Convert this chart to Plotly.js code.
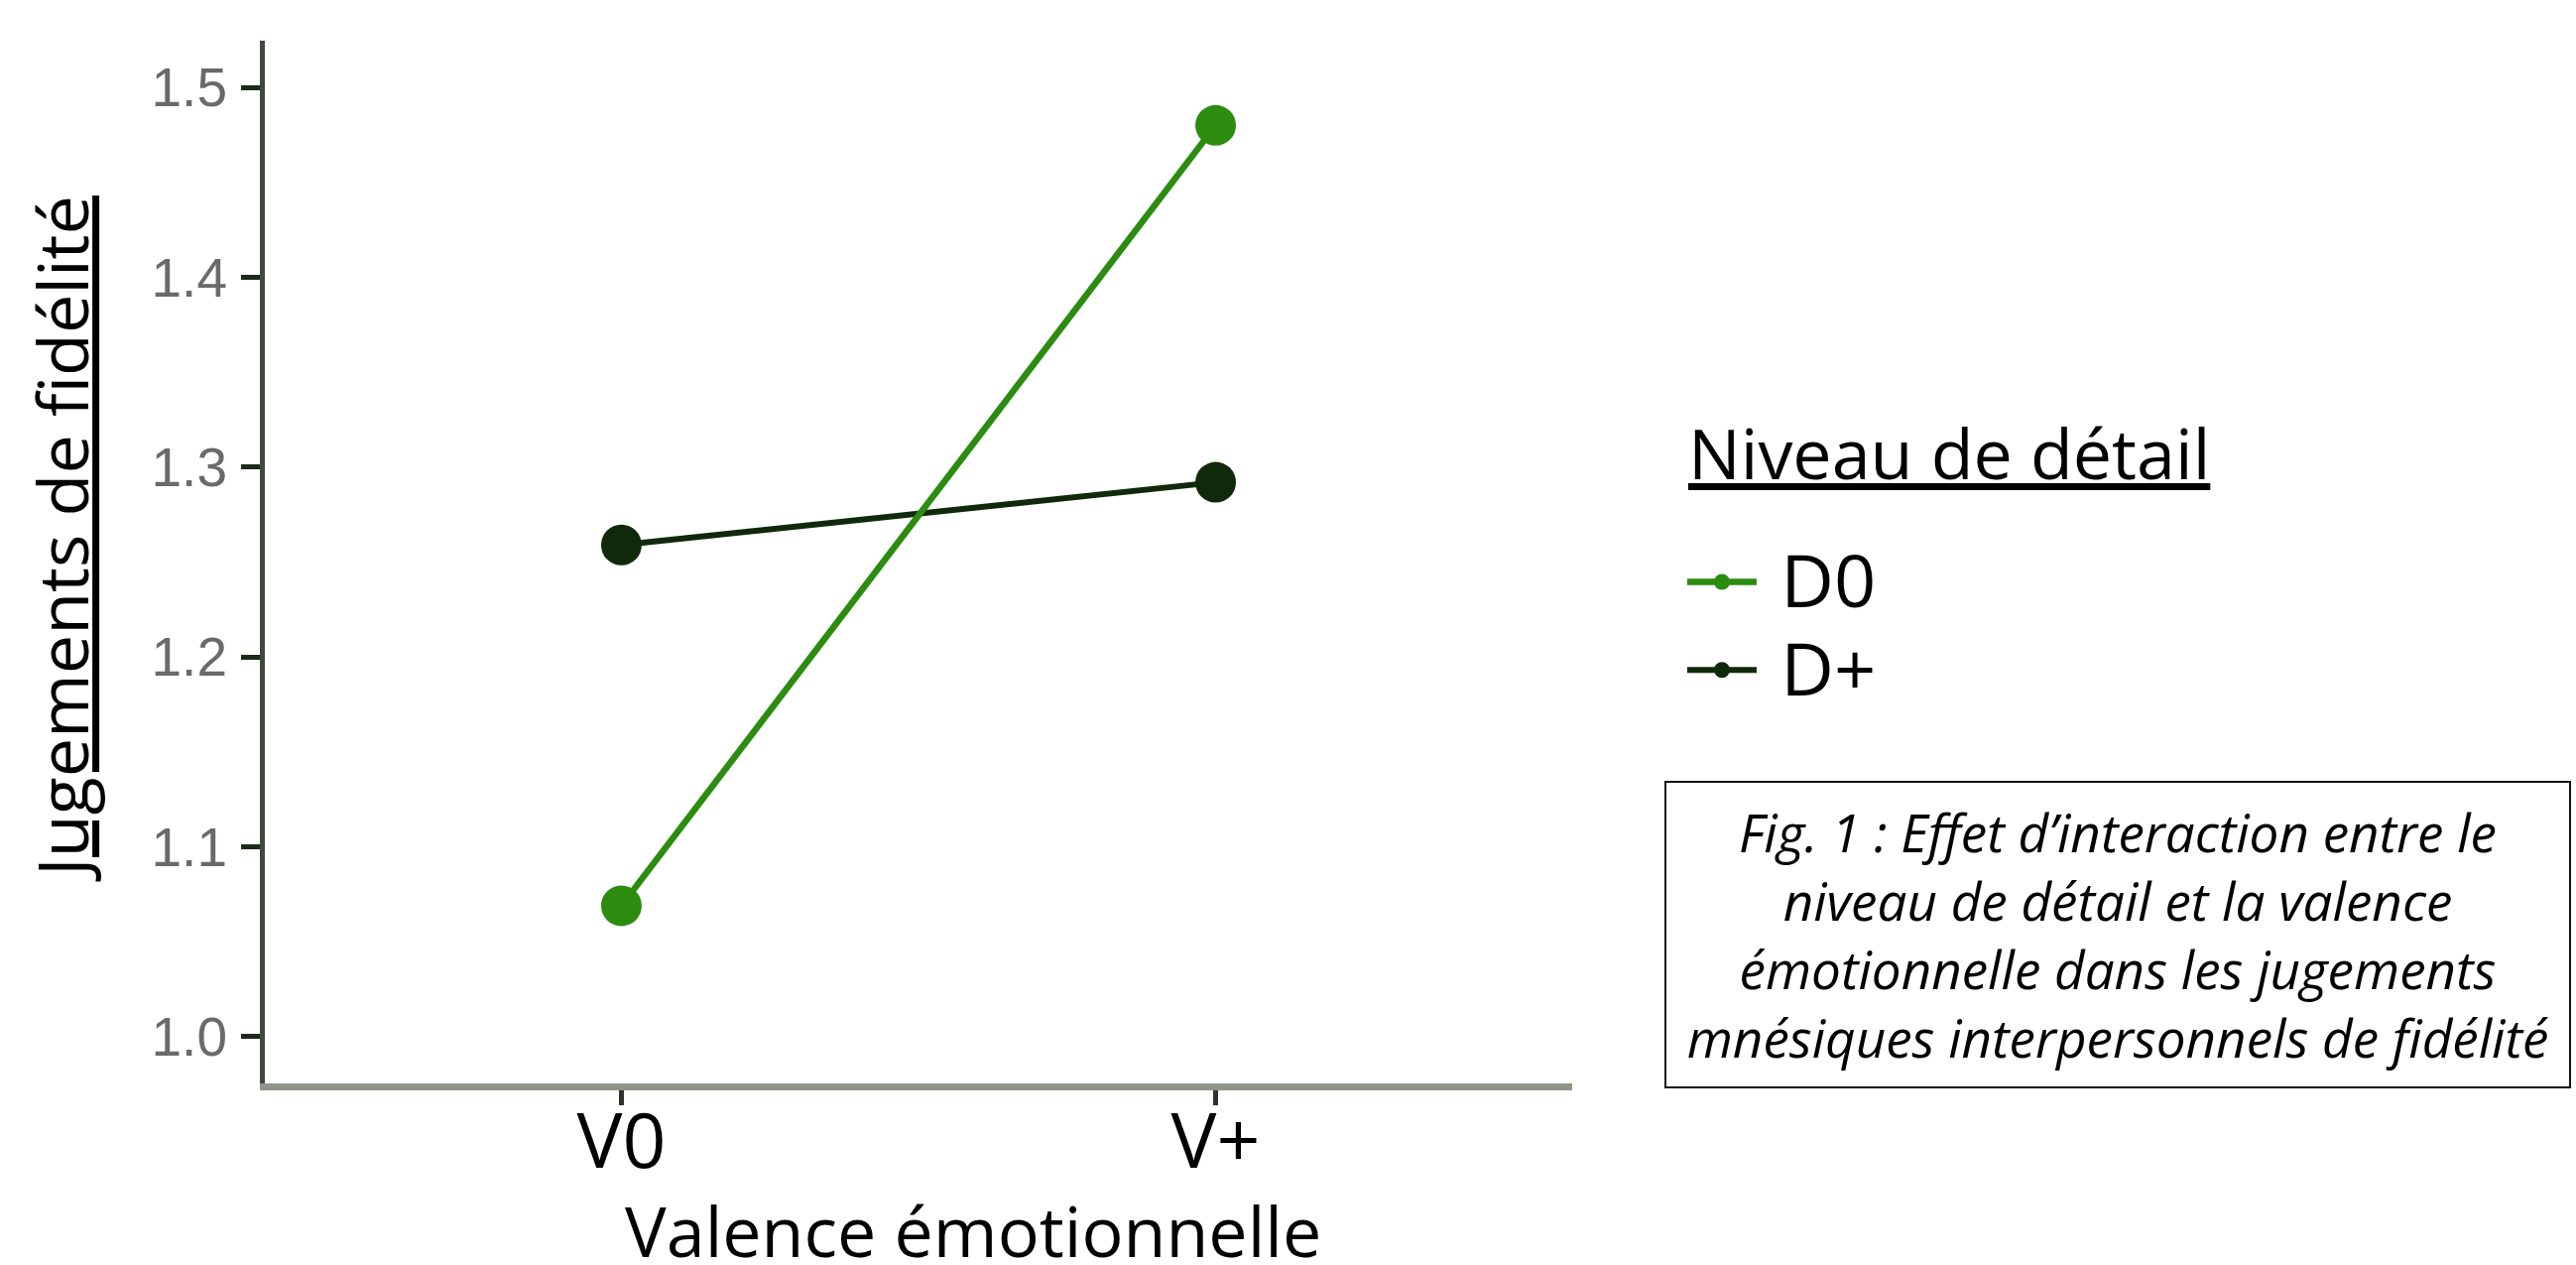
<!DOCTYPE html>
<html>
<head>
<meta charset="utf-8">
<script src="https://cdn.plot.ly/plotly-3.0.1.min.js"></script>
<style>
html,body{margin:0;padding:0;background:#ffffff;}
#chart{width:2597px;height:1275px;}
</style>
</head>
<body>
<div id="chart"></div>
<script>
// ---- data ----
const categories = ['V0', 'V+'];
const seriesNames = ['D0', 'D+'];
const valuesD0 = [1.069, 1.480];
const valuesDPlus = [1.259, 1.292];
const yTickValues = [1.0, 1.1, 1.2, 1.3, 1.4, 1.5];
const yTickLabels = ['1.0', '1.1', '1.2', '1.3', '1.4', '1.5'];
const xTitle = 'Valence émotionnelle';
const yTitle = 'Jugements de fidélité';
const legendTitle = 'Niveau de détail';
const captionLines = [
  'Fig. 1 : Effet d’interaction entre le',
  'niveau de détail et la valence',
  'émotionnelle dans les jugements',
  'mnésiques interpersonnels de fidélité'
];

// ---- styles ----
const colorD0 = '#2b8c10';
const colorDPlus = '#10290b';
const mainFont = 'Open Sans, Lato, sans-serif';

function legendName(n) {
  return '<span style="font-size:74px">\u00A0' + n + '</span>';
}

const traceDPlus = {
  type: 'scatter',
  mode: 'lines+markers',
  x: categories,
  y: valuesDPlus,
  name: legendName(seriesNames[1]),
  line: {color: colorDPlus, width: 6},
  marker: {color: colorDPlus, size: 41},
  cliponaxis: false
};
const traceD0 = {
  type: 'scatter',
  mode: 'lines+markers',
  x: categories,
  y: valuesD0,
  name: legendName(seriesNames[0]),
  line: {color: colorD0, width: 6.5},
  marker: {color: colorD0, size: 41},
  cliponaxis: false
};

const layout = {
  width: 2597,
  height: 1275,
  margin: {l: 267, r: 1012, t: 41, b: 183, pad: 0},
  paper_bgcolor: '#ffffff',
  plot_bgcolor: '#ffffff',
  showlegend: true,
  xaxis: {
    type: 'category',
    range: [-0.6, 1.6],
    showline: true,
    linecolor: '#8f9689',
    linewidth: 7,
    ticks: 'outside',
    ticklen: 15,
    tickwidth: 5,
    tickcolor: '#2a3528',
    ticklabelstandoff: -29,
    tickfont: {family: mainFont, size: 77, color: '#000000'},
    showgrid: false,
    zeroline: false,
    fixedrange: true
  },
  yaxis: {
    range: [0.9754, 1.5246],
    tickmode: 'array',
    tickvals: yTickValues,
    ticktext: yTickLabels,
    showline: true,
    linecolor: '#3e4a3b',
    linewidth: 5,
    ticks: 'outside',
    ticklen: 19,
    tickwidth: 5,
    tickcolor: '#1c2a1a',
    ticklabelstandoff: 3,
    tickfont: {family: 'Liberation Sans, Arial, sans-serif', size: 55, color: '#6a6a6a'},
    showgrid: false,
    zeroline: false,
    fixedrange: true
  },
  legend: {
    x: 1.0842,
    xanchor: 'left',
    y: 0.528,
    yanchor: 'top',
    traceorder: 'reversed',
    itemwidth: 70,
    bgcolor: 'rgba(0,0,0,0)',
    borderwidth: 0,
    font: {family: mainFont, size: 66, color: '#000000'}
  },
  annotations: [
    {
      xref: 'paper', yref: 'paper',
      x: 1.0873, y: 0.6051,
      xanchor: 'left', yanchor: 'middle',
      text: legendTitle,
      showarrow: false,
      font: {family: mainFont, size: 70, color: '#000000', lineposition: 'under'}
    },
    {
      xref: 'paper', yref: 'paper',
      x: 0.5417, y: -0.1405,
      xanchor: 'center', yanchor: 'middle',
      text: xTitle,
      showarrow: false,
      font: {family: mainFont, size: 70, color: '#000000'}
    },
    {
      xref: 'paper', yref: 'paper',
      x: -0.1555, y: 0.5224,
      xanchor: 'center', yanchor: 'middle',
      textangle: -90,
      text: yTitle,
      showarrow: false,
      font: {family: mainFont, size: 70, color: '#000000', lineposition: 'under'}
    },
    {
      xref: 'paper', yref: 'paper',
      x: 1.4173, y: 0.1427,
      xanchor: 'center', yanchor: 'middle',
      text: captionLines.join('<br>'),
      showarrow: false,
      align: 'center',
      valign: 'middle',
      width: 910,
      height: 306,
      borderpad: 0,
      borderwidth: 2,
      bordercolor: '#111111',
      bgcolor: '#ffffff',
      font: {family: mainFont, size: 53, color: '#000000', style: 'italic'}
    }
  ]
};

Plotly.newPlot('chart', [traceDPlus, traceD0], layout, {displayModeBar: false, staticPlot: true});
</script>
</body>
</html>
